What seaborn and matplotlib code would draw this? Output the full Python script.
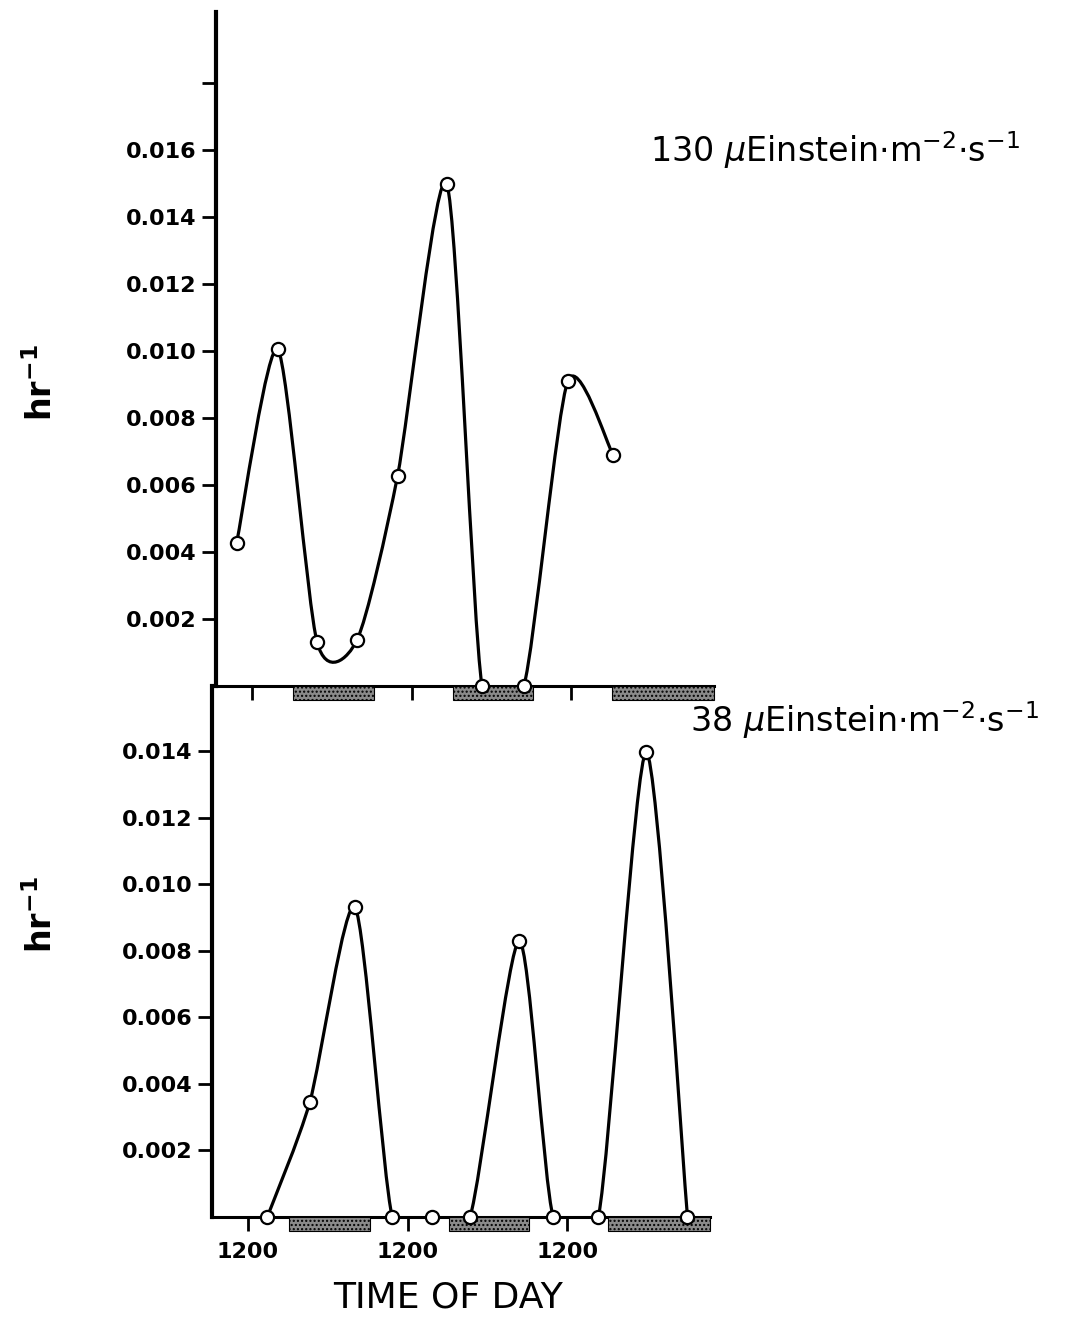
import numpy as np
import pandas as pd
import matplotlib
matplotlib.use('Agg')
import matplotlib.pyplot as plt
from matplotlib.path import Path
from matplotlib.patches import PathPatch, Rectangle
from matplotlib.transforms import blended_transform_factory
import seaborn as sns

# time in hours after the first 1200 (noon) mark
hours_130 = [-2.3, 3.9, 9.8, 15.8, 21.9, 29.3, 34.6, 40.9, 47.5, 54.3]
rate_130 = [0.00427, 0.01005, 0.00131, 0.00137, 0.00627, 0.01499, 0.0, 0.0, 0.0091, 0.0069]

hours_38 = [2.9, 9.3, 16.1, 21.7, 27.7, 33.4, 40.8, 45.9, 52.7, 59.9, 66.1]
rate_38 = [0.0, 0.00345, 0.0093, 0.0, 0.0, 0.0, 0.0083, 0.0, 0.0, 0.01396, 0.0]

# dark periods (stippled bars under the axis)
night_start = [6.2, 30.3, 54.1]
night_end = [18.4, 42.2, 69.5]

noon_ticks = [0, 24, 48]
noon_labels = ['1200', '1200', '1200']

top_yticks = [0.002, 0.004, 0.006, 0.008, 0.010, 0.012, 0.014, 0.016, 0.018]
top_ylabels = ['0.002', '0.004', '0.006', '0.008', '0.010', '0.012', '0.014', '0.016', '']
bot_yticks = [0.002, 0.004, 0.006, 0.008, 0.010, 0.012, 0.014]
bot_ylabels = ['0.002', '0.004', '0.006', '0.008', '0.010', '0.012', '0.014']

sns.set_theme(style='ticks')
plt.rcParams['font.family'] = ['DejaVu Sans']
plt.rcParams['mathtext.fontset'] = 'dejavusans'
for key in ['text.color', 'axes.labelcolor', 'xtick.color', 'ytick.color', 'axes.edgecolor']:
    plt.rcParams[key] = 'black'


def smooth_path(xs, ys, k=0.12):
    # Catmull-Rom style bezier through the measured points
    pts = np.column_stack([xs, ys])
    ext = np.vstack([pts[0], pts, pts[-1]])
    verts = [pts[0]]
    codes = [Path.MOVETO]
    for i in range(len(pts) - 1):
        p0, p1, p2, p3 = ext[i], ext[i + 1], ext[i + 2], ext[i + 3]
        verts += [p1 + (p2 - p0) * k, p2 - (p3 - p1) * k, p2]
        codes += [Path.CURVE4] * 3
    return Path(verts, codes)


def draw_panel(ax, xs, ys, yticks, ylabels, ylim, bar_h):
    ax.add_patch(PathPatch(smooth_path(xs, ys), facecolor='none',
                           edgecolor='black', lw=2.3, zorder=3))
    df = pd.DataFrame({'t': xs, 'r': ys})
    sns.scatterplot(data=df, x='t', y='r', ax=ax, marker='o', s=90,
                    facecolor='white', edgecolor='black', linewidth=1.6,
                    zorder=5, clip_on=False)
    trans = blended_transform_factory(ax.transData, ax.transAxes)
    for a, b in zip(night_start, night_end):
        ax.add_patch(Rectangle((a, -bar_h), b - a, bar_h, transform=trans,
                               facecolor='#8a8a8a', edgecolor='black',
                               hatch='....', lw=0.8, clip_on=False, zorder=4))
    ax.set_xlim(-5.4, 69.5)
    ax.set_ylim(*ylim)
    ax.set_yticks(yticks)
    ax.set_yticklabels(ylabels, fontweight='bold')
    ax.set_xticks(noon_ticks)
    for s in ['top', 'right']:
        ax.spines[s].set_visible(False)
    ax.spines['left'].set_linewidth(3)
    ax.spines['bottom'].set_linewidth(2.2)
    ax.tick_params(axis='both', direction='out', length=10, width=2,
                   labelsize=16, pad=4, color='black')
    ax.set_xlabel('')
    ax.set_ylabel(r'hr$^{\mathbf{-1}}$', fontsize=24, fontweight='bold')
    ax.patch.set_visible(False)


fig = plt.figure(figsize=(10.72, 13.17), dpi=100)
ax_top = fig.add_axes([0.2015, 0.4791, 0.4646, 0.5118])
ax_bot = fig.add_axes([0.1978, 0.0759, 0.4646, 0.4032])
ax_top.set_zorder(3)

draw_panel(ax_top, hours_130, rate_130, top_yticks, top_ylabels, (0, 0.02012), 0.021)
draw_panel(ax_bot, hours_38, rate_38, bot_yticks, bot_ylabels, (0, 0.01595), 0.026)

ax_top.set_xticklabels(['', '', ''])
ax_bot.set_xticklabels(noon_labels, fontweight='bold')
ax_bot.tick_params(axis='x', pad=8)

ax_top.yaxis.set_label_coords(-0.315, 0.45)
ax_bot.yaxis.set_label_coords(-0.307, 0.57)

ax_bot.set_xlabel('TIME OF DAY', fontsize=26)
ax_bot.xaxis.set_label_coords(0.474, -0.12)

fig.text(0.606, 0.886, r'130 $\mu$Einstein$\cdot$m$^{-2}$$\cdot$s$^{-1}$',
         fontsize=24, ha='left', va='center')
fig.text(0.644, 0.453, r'38 $\mu$Einstein$\cdot$m$^{-2}$$\cdot$s$^{-1}$',
         fontsize=24, ha='left', va='center')

fig.savefig('out.png', dpi=100, facecolor='white')
